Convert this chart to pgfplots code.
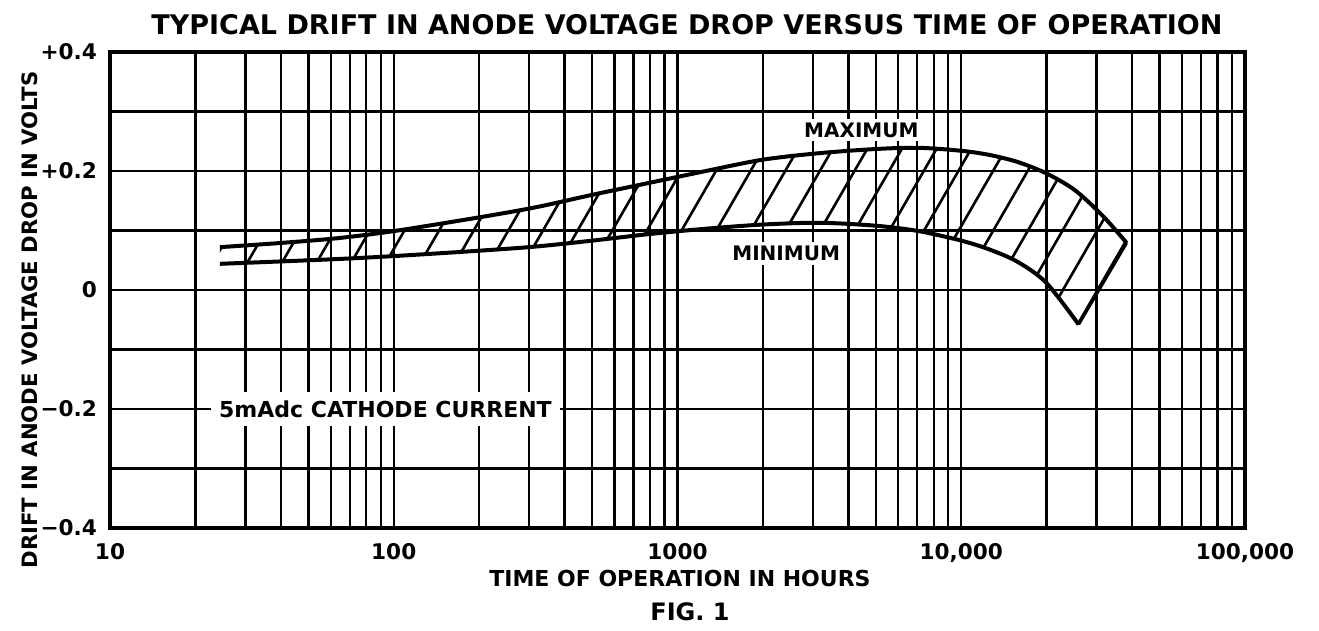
\documentclass[border=0pt]{standalone}
\usepackage{fontspec}
\setmainfont{DejaVu Sans}
\usepackage{pgfplots}
\pgfplotsset{compat=1.18}
\usepgfplotslibrary{fillbetween}
\usetikzlibrary{patterns.meta}
\begin{document}
\begin{tikzpicture}
\begin{axis}[
  at={(0,0)}, anchor=south west,
  scale only axis, width=567.5pt, height=238pt,
  xmode=log, xmin=10, xmax=100000, ymin=-0.4, ymax=0.4,
  xtick={10,100,1000,10000,100000},
  xticklabels={10,100,1000,{10,000},{100,000}},
  minor xtick={20,30,40,50,60,70,80,90,200,300,400,500,600,700,800,900,2000,3000,4000,5000,6000,7000,8000,9000,20000,30000,40000,50000,60000,70000,80000,90000},
  ytick={-0.4,-0.2,0,0.2,0.4},
  yticklabels={{−0.4},{−0.2},0,{+0.2},{+0.4}},
  minor ytick={-0.3,-0.1,0.1,0.3},
  xmajorgrids, xminorgrids, ymajorgrids, yminorgrids,
  grid style={black, line width=1.2pt},
  minor grid style={black, line width=1.2pt},
  major tick length=0pt, minor tick length=0pt,
  axis line style={line width=1.7pt},
  ticklabel style={font=\fontsize{10.8}{12}\selectfont\bfseries},
  xticklabel style={yshift=-4pt},
  yticklabel style={xshift=-3pt},
]
\addplot[name path=upper, line width=2pt, smooth] coordinates {
(24.4,0.072) (39.8,0.079) (63.1,0.087) (100,0.099) (199.5,0.122) (316,0.139) (501,0.160) (794,0.180) (1259,0.200) (1995,0.219) (3162,0.230) (5012,0.237) (7079,0.239) (10000,0.234) (12589,0.227) (15849,0.215) (19953,0.196) (25119,0.168) (31623,0.124) (38300,0.079)};
\addplot[name path=lower, line width=2pt, smooth] coordinates {
(24.4,0.044) (39.8,0.048) (63.1,0.052) (100,0.057) (199.5,0.066) (316,0.073) (501,0.083) (794,0.094) (1259,0.103) (1995,0.110) (3162,0.113) (5012,0.108) (7079,0.099) (10000,0.083) (12589,0.068) (15849,0.047) (19953,0.012) (25940,-0.058)};
\addplot[pattern={Lines[angle=60,distance=15pt,line width=1.3pt]}, draw=none] fill between[of=upper and lower];
\addplot[line width=1.4pt] coordinates {(38300,0.079) (25940,-0.058)};
\node[fill=white, inner sep=2pt, font=\fontsize{10}{12}\selectfont\bfseries] at (axis cs:4446,0.269) {MAXIMUM};
\node[fill=white, inner sep=2pt, font=\fontsize{10}{12}\selectfont\bfseries] at (axis cs:2415,0.062) {MINIMUM};
\node[fill=white, inner sep=4pt, font=\fontsize{11}{12}\selectfont\bfseries] at (axis cs:93.5,-0.2) {5mAdc CATHODE CURRENT};
\end{axis}
\node[font=\fontsize{13.5}{15}\selectfont\bfseries] at (288.5pt,251.5pt) {TYPICAL DRIFT IN ANODE VOLTAGE DROP VERSUS TIME OF OPERATION};
\node[rotate=90, font=\fontsize{10.6}{12}\selectfont\bfseries] at (-40pt,104pt) {DRIFT IN ANODE VOLTAGE DROP IN VOLTS};
\node[font=\fontsize{11}{12}\selectfont\bfseries] at (285pt,-25pt) {TIME OF OPERATION IN HOURS};
\node[font=\fontsize{12}{14}\selectfont\bfseries] at (290pt,-42pt) {FIG. 1};
\pgfresetboundingbox
\path[use as bounding box] (-55pt,-51.5pt) rectangle (604.5pt,264pt);
\end{tikzpicture}
\end{document}
